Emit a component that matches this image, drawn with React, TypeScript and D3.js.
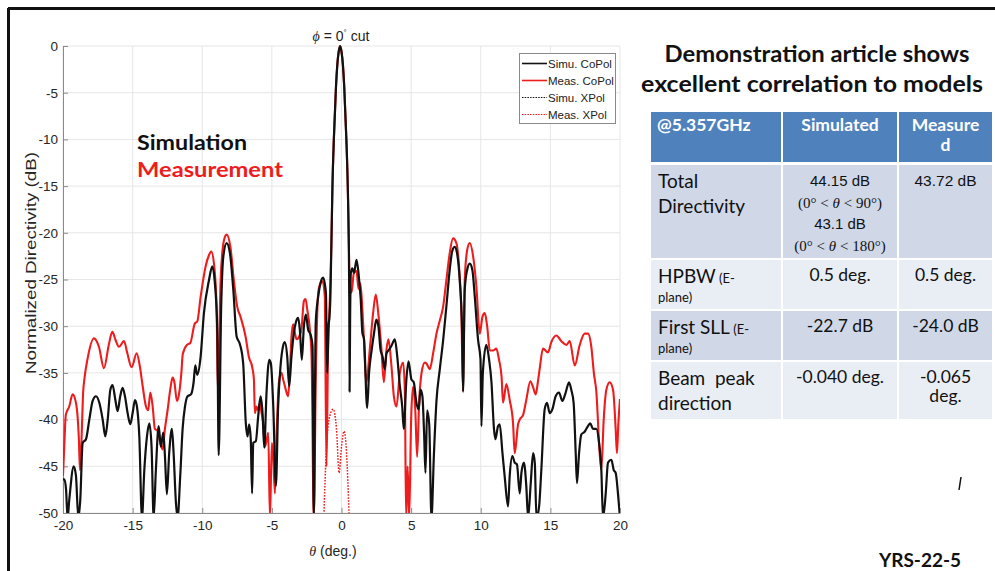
import React, { useRef, useEffect } from "react";
import * as d3 from "d3";

// ---- chart data (theta in deg, normalized directivity in dB) ----
const xTicks = [-20, -15, -10, -5, 0, 5, 10, 15, 20];
const yTicks = [0, -5, -10, -15, -20, -25, -30, -35, -40, -45, -50];

const simuCoPol: [number, number][] = [
  [-20, -46.4], [-19.9, -46.4], [-19.78, -47.5], [-19.67, -50.5], [-19.55, -48.6], [-19.23, -45], [-19.07, -46],
  [-18.9, -50.5], [-18.76, -48.6], [-18.59, -42.5], [-18.35, -42.1], [-18.11, -40], [-17.87, -38], [-17.63, -37.5],
  [-17.39, -38.2], [-17.15, -40], [-16.96, -41.8], [-16.79, -40], [-16.6, -36.8], [-16.44, -36.3], [-16.24, -37.9],
  [-16.08, -39.1], [-15.89, -37.5], [-15.72, -36.6], [-15.55, -37.5], [-15.36, -39.3], [-15.17, -40.5], [-15.0, -39.3],
  [-14.83, -37.9], [-14.69, -38.6], [-14.52, -41.8], [-14.33, -50.5], [-14.16, -45.4], [-13.97, -41.8], [-13.8, -40.4],
  [-13.64, -42.9], [-13.49, -50.5], [-13.33, -45.4], [-13.13, -40.7], [-12.97, -42.9], [-12.8, -41.4], [-12.68, -43.9],
  [-12.54, -48], [-12.37, -43.5], [-12.18, -41], [-12.06, -43.5], [-11.89, -48.9], [-11.77, -50.5], [-11.58, -46],
  [-11.41, -41], [-11.24, -38.6], [-11.05, -37.5], [-10.81, -37.3], [-10.62, -36], [-10.5, -34.2], [-10.36, -35.2],
  [-10.12, -33.3], [-9.88, -28.6], [-9.52, -25.1], [-9.28, -23.6], [-9.11, -25.1], [-8.92, -30.4], [-8.82, -43.8],
  [-8.64, -27.9], [-8.49, -22.6], [-8.25, -21.1], [-8.01, -22.2], [-7.77, -26.1], [-7.53, -31.1], [-7.3, -31.9],
  [-7.06, -34], [-6.87, -40.4], [-6.75, -41.8], [-6.63, -40.5], [-6.52, -42], [-6.42, -47.9], [-6.34, -42.5],
  [-6.15, -42.3], [-5.98, -39.6], [-5.81, -37.5], [-5.67, -39.3], [-5.55, -43], [-5.38, -37], [-5.19, -33.6],
  [-5.07, -34], [-4.9, -38.6], [-4.71, -47.1], [-4.55, -38.6], [-4.38, -34.3], [-4.19, -32.1], [-4.07, -31.7],
  [-3.9, -33.2], [-3.76, -36.4], [-3.59, -33.2], [-3.42, -30.7], [-3.28, -29.6], [-3.11, -29.1], [-2.99, -30.4],
  [-2.85, -33.6], [-2.7, -30], [-2.56, -28.75], [-2.39, -30.4], [-2.22, -30.9], [-2.08, -32.1], [-1.99, -50.5],
  [-1.85, -29.6], [-1.67, -26.8], [-1.51, -25.4], [-1.32, -24.8], [-1.12, -26.4], [-1.03, -35], [-0.93, -30],
  [-0.86, -29], [-0.8, -27], [-0.72, -20.7], [-0.65, -15], [-0.55, -10], [-0.4, -4.5], [-0.3, -2], [-0.2, -0.6],
  [-0.1, 0], [0, -0.6], [0.1, -2], [0.2, -4.5], [0.35, -10], [0.45, -15], [0.52, -20.7], [0.56, -27.5], [0.58, -37],
  [0.62, -29], [0.67, -24.3], [0.78, -23.8], [0.9, -24.3], [1.08, -22.9], [1.24, -24.6], [1.38, -27.1], [1.5, -30.7],
  [1.62, -31.4], [1.84, -38.75], [1.98, -35], [2.17, -32.5], [2.34, -30.7], [2.5, -29.3], [2.65, -30], [2.8, -32.5],
  [2.94, -33.2], [3.11, -34.6], [3.23, -32.9], [3.42, -32.5], [3.59, -32.1], [3.83, -31.4], [4.0, -33.2], [4.19, -36.4],
  [4.36, -38.6], [4.47, -41], [4.66, -35.7], [4.81, -33.75], [5.02, -35.7], [5.19, -36], [5.38, -38.2], [5.55, -38.9],
  [5.67, -36.8], [5.81, -37.5], [5.93, -41.4], [6.03, -45.7], [6.15, -39], [6.3, -40.5], [6.46, -50.5], [6.64, -43.6],
  [6.82, -38], [7.06, -34.6], [7.3, -31.5], [7.53, -27.9], [7.77, -24], [7.96, -21.9], [8.13, -21.5], [8.3, -22.2],
  [8.49, -25.1], [8.66, -30.4], [8.73, -37], [8.85, -26.1], [9.02, -24], [9.21, -23.3], [9.4, -24], [9.57, -26.8],
  [9.81, -31.5], [9.98, -33.5], [10.05, -40.7], [10.15, -35], [10.4, -32], [10.6, -33.6], [10.77, -36], [10.95, -41],
  [11.05, -42.1], [11.24, -40.7], [11.36, -40.5], [11.56, -43.6], [11.72, -46.1], [11.96, -49.3], [12.08, -46],
  [12.27, -43.9], [12.44, -44.6], [12.6, -44.8], [12.8, -47.9], [12.92, -45.7], [13.1, -44.6], [13.27, -47.1],
  [13.4, -50.5], [13.59, -46.8], [13.76, -43.6], [13.88, -44.6], [14.0, -50.5], [14.19, -49.3], [14.35, -45.4],
  [14.59, -38.9], [14.76, -38.2], [14.95, -39.3], [15.14, -38.9], [15.38, -37.5], [15.62, -37.1], [15.86, -38],
  [16.1, -37.1], [16.34, -36], [16.5, -36.8], [16.67, -38.2], [16.82, -43.6], [16.91, -46.8], [17.06, -43.6],
  [17.22, -41.6], [17.46, -41.3], [17.7, -40.7], [17.87, -40.4], [18.06, -41], [18.3, -41], [18.49, -42.4],
  [18.66, -45.4], [18.78, -50.5], [18.97, -48], [19.14, -44.6], [19.38, -44.3], [19.55, -45.4], [19.69, -45.7],
  [19.86, -48], [20, -50.5],
];

const measCoPol: [number, number][] = [
  [-20, -46], [-19.9, -42.5], [-19.8, -39.5], [-19.55, -38.6], [-19.31, -37.3], [-19.07, -38.2], [-18.86, -42.1],
  [-18.78, -45.4], [-18.68, -42.5], [-18.55, -37], [-18.45, -35.5], [-18.25, -33.6], [-17.78, -31.3], [-17.42, -32.2],
  [-17.06, -34.5], [-16.7, -31.9], [-16.46, -30.6], [-16.22, -31.5], [-15.98, -32.2], [-15.62, -31.6], [-15.38, -32.9],
  [-15.07, -34.4], [-14.71, -32.9], [-14.47, -34.4], [-14.28, -36.4], [-14.04, -38.6], [-13.88, -39], [-13.73, -37.1],
  [-13.56, -38.6], [-13.4, -41], [-13.2, -41.2], [-13.01, -42.5], [-12.85, -43.2], [-12.68, -41], [-12.49, -39],
  [-12.3, -36.8], [-12.13, -35.5], [-12.0, -36], [-11.82, -38], [-11.65, -37.1], [-11.5, -35], [-11.4, -33],
  [-11.1, -32], [-10.86, -31.8], [-10.53, -29.7], [-10.36, -29.5], [-10.12, -26.9], [-9.76, -23.6], [-9.52, -22.4],
  [-9.35, -22], [-9.16, -23.3], [-8.97, -27.9], [-8.88, -37], [-8.68, -25.1], [-8.44, -20.8], [-8.25, -20.2],
  [-7.97, -21.6], [-7.73, -25.1], [-7.49, -27.9], [-7.25, -29], [-6.89, -31.1], [-6.65, -33.3], [-6.41, -34.4],
  [-6.29, -35.7], [-6.22, -39.3], [-6.1, -38.6], [-5.98, -39], [-5.86, -38.2], [-5.74, -39.3], [-5.62, -40.4],
  [-5.5, -42.9], [-5.35, -42], [-5.26, -41.4], [-5.14, -50.5], [-5.0, -42.5], [-4.9, -44], [-4.78, -47.9],
  [-4.67, -42], [-4.47, -35.7], [-4.31, -35], [-4.19, -35.7], [-4.0, -36.8], [-3.83, -37.5], [-3.71, -35],
  [-3.59, -31.1], [-3.47, -29.8], [-3.35, -30.7], [-3.23, -31.4], [-3.04, -31.1], [-2.87, -30.2], [-2.7, -27.3],
  [-2.58, -27.1], [-2.46, -28.2], [-2.27, -30.4], [-2.15, -33.2], [-1.99, -50.5], [-1.84, -35], [-1.67, -26.4],
  [-1.51, -25.4], [-1.36, -25.2], [-1.2, -26.8], [-1.08, -45], [-0.96, -32], [-0.86, -28], [-0.8, -25.5],
  [-0.72, -20.7], [-0.65, -15], [-0.55, -10], [-0.4, -4.5], [-0.3, -2], [-0.2, -0.6], [-0.1, 0], [0, -0.6],
  [0.1, -2], [0.2, -4.5], [0.35, -10], [0.45, -15], [0.52, -20.7], [0.6, -26], [0.72, -26.4], [0.89, -24.3],
  [1.08, -24.1], [1.22, -26], [1.36, -25.4], [1.55, -29.6], [1.79, -36], [2.03, -32.5], [2.27, -28.6], [2.46, -26.6],
  [2.66, -28.9], [2.87, -32.5], [3.04, -36], [3.23, -32.5], [3.37, -31.4], [3.59, -34.3], [3.76, -37.5], [3.95, -38.6],
  [4.19, -35], [4.43, -33.9], [4.55, -37], [4.64, -50.5], [4.75, -45], [4.86, -50.5], [5.0, -40], [5.14, -36.5],
  [5.3, -39], [5.43, -44], [5.58, -38], [5.75, -35], [5.98, -33.9], [6.1, -34], [6.34, -34.6], [6.58, -32.9],
  [6.82, -30.8], [7.06, -29.4], [7.3, -27.9], [7.53, -25.1], [7.77, -22.2], [8.01, -20.6], [8.25, -21.1],
  [8.44, -23.6], [8.61, -28.6], [8.73, -37], [8.85, -25.1], [9.02, -21.9], [9.21, -21.1], [9.45, -22.5],
  [9.69, -25.8], [9.93, -30.8], [10.12, -29], [10.29, -28.6], [10.46, -30], [10.65, -32.6], [10.89, -32.6],
  [11.12, -32.4], [11.3, -33.5], [11.5, -35.5], [11.6, -38.2], [11.84, -36.2], [12.08, -37.9], [12.32, -40.4],
  [12.44, -43.6], [12.68, -40.5], [12.8, -40], [13.04, -39.5], [13.27, -37.9], [13.56, -35.9], [13.75, -36.5],
  [13.95, -37.3], [14.1, -36], [14.23, -34.6], [14.47, -32.4], [14.83, -32.8], [15.07, -31.7], [15.43, -31],
  [15.79, -31.6], [16.15, -32], [16.39, -31.6], [16.75, -34.2], [17.11, -32], [17.46, -30.8], [17.7, -30.8],
  [17.94, -32.2], [18.13, -35.1], [18.3, -37], [18.54, -43.6], [18.66, -45.4], [18.83, -40], [19.02, -36.8],
  [19.26, -36], [19.5, -36.8], [19.69, -41], [19.78, -43.6], [19.88, -40.5], [20, -37.8],
];

// simulated cross-pol stays below the -50 dB floor, so nothing of it is visible
const simuXPol: [number, number][] = [];

const measXPol: [number, number][] = [
  [-1.27, -50.5], [-1.08, -43], [-0.84, -39.6], [-0.6, -38.9], [-0.36, -41], [-0.17, -45.7],
  [0.0, -42.9], [0.19, -41.25], [0.36, -43.5], [0.55, -50.5],
];

const legendLabels = ["Simu. CoPol", "Meas. CoPol", "Simu. XPol", "Meas. XPol"];

// ---- table data ----
const tableHeader = [["@5.357GHz"], ["Simulated"], ["Measure", "d"]];
const rowNames = [["Total", "Directivity"], ["HPBW", "plane)"], ["First SLL", "plane)"], ["Beam  peak", "direction"]];
const rowNotes = ["", " (E-", " (E-", ""];
const simulatedVals = [["44.15 dB", "(0° < θ < 90°)", "43.1 dB", "(0° < θ < 180°)"], ["0.5 deg."], ["-22.7 dB"], ["-0.040 deg."]];
const measuredVals = [["43.72 dB"], ["0.5 deg."], ["-24.0 dB"], ["-0.065", "deg."]];

const NARROW = "'Liberation Sans Narrow', 'Liberation Sans', Arial, sans-serif";
const CAL = "Lato, 'Open Sans', sans-serif";
const RED = "#ee1c1c";

const W = 995;
const H = 571;

const x = d3.scaleLinear().domain([-20, 20]).range([63, 620]);
const y = d3.scaleLinear().domain([-50, 0]).range([513, 46]);

const line = d3
  .line<[number, number]>()
  .x((d) => x(d[0]))
  .y((d) => y(d[1]))
  .curve(d3.curveMonotoneX);

const colX = [651, 783, 899];
const colW = [130, 114, 93];
const rowTops = [165, 260, 311, 362];
const rowHs = [93, 49, 49, 57];

const Math1 = ({ s }: { s: string }) => {
  // renders "(0° < θ < 90°)" with italic theta
  const parts = s.split("θ");
  return (
    <>
      {parts[0]}
      <tspan fontStyle="italic">θ</tspan>
      {parts[1]}
    </>
  );
};

const App = () => {
  const axesRef = useRef<SVGGElement>(null);

  useEffect(() => {
    if (!axesRef.current) return;
    const g = d3.select(axesRef.current);
    g.selectAll("*").remove();

    const ax = g
      .append("g")
      .attr("transform", `translate(0,${y(-50)})`)
      .call(
        d3.axisBottom(x).tickValues(xTicks).tickSizeInner(-5).tickSizeOuter(0).tickPadding(7)
          .tickFormat((d) => String(d))
      );
    const ay = g
      .append("g")
      .attr("transform", `translate(${x(-20)},0)`)
      .call(
        d3.axisLeft(y).tickValues(yTicks).tickSizeInner(-5).tickSizeOuter(0).tickPadding(5)
          .tickFormat((d) => String(d))
      );
    [ax, ay].forEach((a) => {
      a.select(".domain").attr("stroke", "#8a8a8a");
      a.selectAll(".tick line").attr("stroke", "#8a8a8a");
      a.selectAll(".tick text")
        .attr("fill", "#262626")
        .style("font-family", NARROW)
        .style("font-size", "13.5px");
    });
  }, []);

  return (
    <div style={{ position: "absolute", left: 0, top: 0 }}>
      <svg width={W} height={H} style={{ display: "block", background: "#fff" }}>
        <defs>
          <clipPath id="plot">
            <rect x={x(-20)} y={y(0) - 2} width={x(20) - x(-20)} height={y(-50) - y(0) + 2} />
          </clipPath>
        </defs>

        {/* slide frame */}
        <line x1={8} x2={W} y1={8.5} y2={8.5} stroke="#111" strokeWidth={3} />
        <line x1={8.5} x2={8.5} y1={8} y2={H} stroke="#111" strokeWidth={3} />

        {/* grid */}
        {xTicks.map((t) => (
          <line key={"gx" + t} x1={x(t)} x2={x(t)} y1={y(0)} y2={y(-50)} stroke="#e6e6e6" />
        ))}
        {yTicks.map((t) => (
          <line key={"gy" + t} x1={x(-20)} x2={x(20)} y1={y(t)} y2={y(t)} stroke="#e6e6e6" />
        ))}

        <g ref={axesRef} />

        {/* curves */}
        <g clipPath="url(#plot)" fill="none" strokeLinejoin="round">
          <path d={line(measCoPol) || ""} stroke={RED} strokeWidth={2.1} />
          <path d={line(simuCoPol) || ""} stroke="#111" strokeWidth={2.2} />
          {simuXPol.length > 0 && (
            <path d={line(simuXPol) || ""} stroke="#333" strokeWidth={1.4} strokeDasharray="1.5,1.5" />
          )}
          <path d={line(measXPol) || ""} stroke={RED} strokeWidth={1.5} strokeDasharray="1.6,1.4" />
        </g>

        {/* title & axis labels */}
        <text x={341} y={41} textAnchor="middle" fontFamily={NARROW} fontSize={14} fill="#222">
          <tspan fontFamily="'Liberation Serif', serif" fontStyle="italic">ϕ</tspan>
          <tspan> = 0</tspan>
          <tspan fontSize={8} dy={-6}>°</tspan>
          <tspan dy={6}> cut</tspan>
        </text>
        <text
          transform="translate(36,263) rotate(-90)"
          textAnchor="middle"
          fontFamily={NARROW}
          fontSize={14}
          fill="#262626"
          textLength={222}
          lengthAdjust="spacingAndGlyphs"
        >
          Normalized Directivity (dB)
        </text>
        <text x={333} y={556} textAnchor="middle" fontFamily={NARROW} fontSize={14} fill="#262626">
          <tspan fontFamily="'Liberation Serif', serif" fontStyle="italic">θ</tspan> (deg.)
        </text>

        {/* legend */}
        <rect x={519.5} y={53.5} width={96} height={70} fill="#fff" stroke="#8a8a8a" />
        {legendLabels.map((lab, i) => {
          const ly = 63.5 + i * 17;
          const dotted = i >= 2;
          const col = i % 2 === 0 ? "#111" : RED;
          return (
            <g key={lab}>
              <line
                x1={522}
                x2={547}
                y1={ly}
                y2={ly}
                stroke={col}
                strokeWidth={dotted ? 1.2 : 1.6}
                strokeDasharray={dotted ? "1.5,1.2" : undefined}
              />
              <text x={548} y={ly + 4} fontFamily={NARROW} fontSize={11.5} fill="#222">
                {lab}
              </text>
            </g>
          );
        })}

        {/* overlay annotations */}
        <text x={137} y={150} fontFamily={CAL} fontWeight={700} fontSize={21} fill="#111" textLength={110} lengthAdjust="spacingAndGlyphs">
          Simulation
        </text>
        <text x={137} y={177} fontFamily={CAL} fontWeight={700} fontSize={21} fill={RED} textLength={146} lengthAdjust="spacingAndGlyphs">
          Measurement
        </text>

        {/* right side heading */}
        <text x={817} y={62} textAnchor="middle" fontFamily={CAL} fontWeight={700} fontSize={23} fill="#111" textLength={305} lengthAdjust="spacingAndGlyphs">
          Demonstration article shows
        </text>
        <text x={812} y={92} textAnchor="middle" fontFamily={CAL} fontWeight={700} fontSize={23} fill="#111" textLength={342} lengthAdjust="spacingAndGlyphs">
          excellent correlation to models
        </text>

        {/* table header */}
        {tableHeader.map((cell, c) => (
          <g key={"h" + c}>
            <rect x={colX[c]} y={112} width={colW[c]} height={50} fill="#4f81bd" />
            {cell.map((t, k) => (
              <text
                key={k}
                x={c === 0 ? colX[c] + 6 : colX[c] + colW[c] / 2}
                y={131 + k * 20}
                textAnchor={c === 0 ? "start" : "middle"}
                fontFamily={CAL}
                fontWeight={700}
                fontSize={17.5}
                fill="#fff"
              >
                {t}
              </text>
            ))}
          </g>
        ))}

        {/* table body */}
        {rowNames.map((names, r) => {
          const top = rowTops[r];
          const fill = r % 2 === 0 ? "#d0d8e8" : "#e9edf4";
          return (
            <g key={"r" + r}>
              {colX.map((cx, c) => (
                <rect key={c} x={cx} y={top} width={colW[c]} height={rowHs[r]} fill={fill} />
              ))}
              {/* row name */}
              <text x={colX[0] + 7} y={top + 23} fontFamily={CAL} fontSize={19} fill="#111" style={{ whiteSpace: "pre" }}>
                {names[0]}
                {rowNotes[r] && <tspan fontSize={13}>{rowNotes[r]}</tspan>}
              </text>
              <text
                x={colX[0] + 7}
                y={rowNotes[r] ? top + 42 : top + 48}
                fontFamily={CAL}
                fontSize={rowNotes[r] ? 13 : 19}
                fill="#111"
              >
                {names[1]}
              </text>
              {/* simulated */}
              {simulatedVals[r].map((v, k) => {
                const isMath = v.includes("θ");
                return (
                  <text
                    key={"s" + k}
                    x={colX[1] + colW[1] / 2}
                    y={top + 21 + k * 21.5}
                    textAnchor="middle"
                    fontFamily={r === 0 ? (isMath ? "'Liberation Serif', serif" : "'Liberation Sans', Arial, sans-serif") : CAL}
                    fontSize={r === 0 ? 15 : 17.5}
                    fill="#111"
                  >
                    {isMath ? <Math1 s={v} /> : v}
                  </text>
                );
              })}
              {/* measured */}
              {measuredVals[r].map((v, k) => (
                <text
                  key={"m" + k}
                  x={colX[2] + colW[2] / 2}
                  y={top + 21 + k * 19}
                  textAnchor="middle"
                  fontFamily={r === 0 ? "'Liberation Sans', Arial, sans-serif" : CAL}
                  fontSize={r === 0 ? 15.5 : 17.5}
                  fill="#111"
                >
                  {v}
                </text>
              ))}
            </g>
          );
        })}

        {/* stray mark and slide number */}
        <path d="M961,477 L959,490" stroke="#111" strokeWidth={1.5} />
        <text x={920} y={567} textAnchor="middle" fontFamily={CAL} fontWeight={700} fontSize={19} fill="#111">
          YRS-22-5
        </text>
      </svg>
    </div>
  );
};

export default App;
